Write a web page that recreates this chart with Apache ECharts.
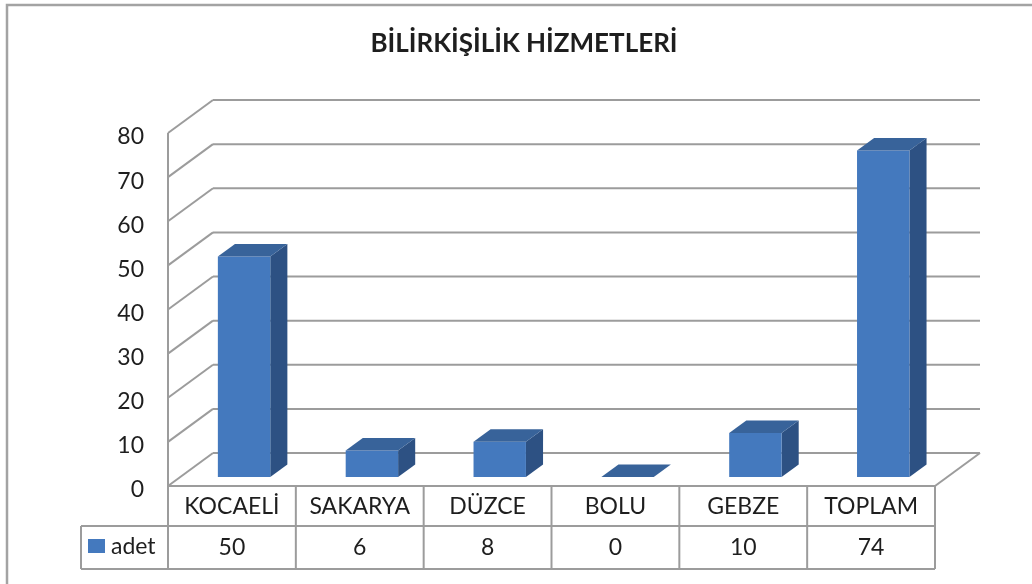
<!DOCTYPE html>
<html>
<head>
<meta charset="utf-8">
<script src="https://cdn.jsdelivr.net/npm/echarts@6/dist/echarts.min.js"></script>
<style>
  html, body { margin: 0; background: #fff; }
  #chart { width: 1032px; height: 584px; }
</style>
</head>
<body>
<div id="chart"></div>
<script>
const title = 'BİLİRKİŞİLİK HİZMETLERİ';
const seriesName = 'adet';
const categories = ['KOCAELİ', 'SAKARYA', 'DÜZCE', 'BOLU', 'GEBZE', 'TOPLAM'];
const adet = [50, 6, 8, 0, 10, 74];
const yTicks = [0, 10, 20, 30, 40, 50, 60, 70, 80];

// fake 3d: how far the back wall sits from the front plane
const DEPTH_X = 45, DEPTH_Y = -33;
const GRID_COLOR = '#9c9c9c';
const TEXT_COLOR = '#1e1e1e';
const FONT = 'Lato';
const FRONT = '#4479be', TOP = '#38639a', SIDE = '#2d5183';

// back wall, left wall, floor and the data table under it
function renderWalls(params, api) {
  const band = api.size([1, 0])[0];
  const left = api.coord([0, 0])[0] - band / 2;
  const right = left + band * categories.length;
  const floorY = api.coord([0, 0])[1];
  const kids = [];
  const line = (x1, y1, x2, y2) => kids.push({
    type: 'line', shape: {x1, y1, x2, y2},
    style: {stroke: GRID_COLOR, lineWidth: 2}
  });
  const text = (x, y, t, align) => kids.push({
    type: 'text', x, y,
    style: {text: t, fill: TEXT_COLOR, font: '23px ' + FONT, align: align || 'center', verticalAlign: 'middle'}
  });

  yTicks.forEach(t => {
    const y = api.coord([0, t])[1];
    line(left, y, left + DEPTH_X, y + DEPTH_Y);
    line(left + DEPTH_X, y + DEPTH_Y, right + DEPTH_X, y + DEPTH_Y);
    // tick labels sit a little below their gridline
    text(left - 24, y + 4, String(t), 'right');
  });
  const topY = api.coord([0, yTicks[yTicks.length - 1]])[1];
  line(left, topY, left, floorY);
  line(left, floorY, right, floorY);
  line(right, floorY, right + DEPTH_X, floorY + DEPTH_Y);

  // table
  const row1 = floorY + 40, row2 = floorY + 83, legL = left - 87;
  line(legL, row1, right, row1);
  line(legL, row2, right, row2);
  line(legL, row1, legL, row2);
  for (let i = 0; i <= categories.length; i++) {
    line(left + band * i, floorY, left + band * i, row2);
  }
  categories.forEach((c, i) => {
    text(left + band * (i + 0.5), floorY + 21, c);
    text(left + band * (i + 0.5), row1 + 22, String(adet[i]));
  });
  kids.push({type: 'rect', shape: {x: legL + 7, y: row1 + 13, width: 17, height: 14}, style: {fill: FRONT}});
  text(legL + 30, row1 + 21, seriesName, 'left');

  return {type: 'group', children: kids};
}

function renderBar(params, api) {
  const i = api.value(0), v = api.value(1);
  const band = api.size([1, 0])[0];
  const w = band * 0.41;
  const ox = DEPTH_X * 0.27, oy = DEPTH_Y * 0.27;
  const dx = DEPTH_X * 0.38, dy = DEPTH_Y * 0.38;
  const base = api.coord([i, 0]), top = api.coord([i, v]);
  const x0 = base[0] - w / 2 + ox, x1 = x0 + w;
  const yb = base[1] + oy, yt = top[1] + oy;
  return {
    type: 'group',
    children: [
      {type: 'polygon', shape: {points: [[x1, yb], [x1 + dx, yb + dy], [x1 + dx, yt + dy], [x1, yt]]}, style: {fill: SIDE}},
      {type: 'rect', shape: {x: x0, y: yt, width: w, height: yb - yt}, style: {fill: FRONT}},
      {type: 'polygon', shape: {points: [[x0, yt], [x0 + dx, yt + dy], [x1 + dx, yt + dy], [x1, yt]]}, style: {fill: TOP}}
    ]
  };
}

const chart = echarts.init(document.getElementById('chart'));
chart.setOption({
  animation: false,
  backgroundColor: '#fff',
  graphic: [
    {type: 'rect', shape: {x: 7, y: 5, width: 1040, height: 600}, style: {fill: 'none', stroke: '#a3a3a3', lineWidth: 2.5}},
    {type: 'text', x: 524, y: 44, style: {text: title, font: 'bold 26px ' + FONT, fill: TEXT_COLOR, align: 'center', verticalAlign: 'middle'}}
  ],
  grid: {left: 168, right: 97, top: 133, bottom: 98},
  xAxis: {type: 'category', data: categories, show: false},
  yAxis: {
    type: 'value', min: 0, max: 80, interval: 10,
    axisLine: {show: false}, axisTick: {show: false}, splitLine: {show: false},
    axisLabel: {show: false}
  },
  series: [
    {
      type: 'custom', name: 'walls', silent: true, clip: false, z: 1,
      renderItem: renderWalls, data: [[0, 0]]
    },
    {
      type: 'custom', name: seriesName, clip: false, z: 2,
      renderItem: renderBar,
      data: categories.map((c, i) => [i, adet[i]])
    }
  ]
});
</script>
</body>
</html>
